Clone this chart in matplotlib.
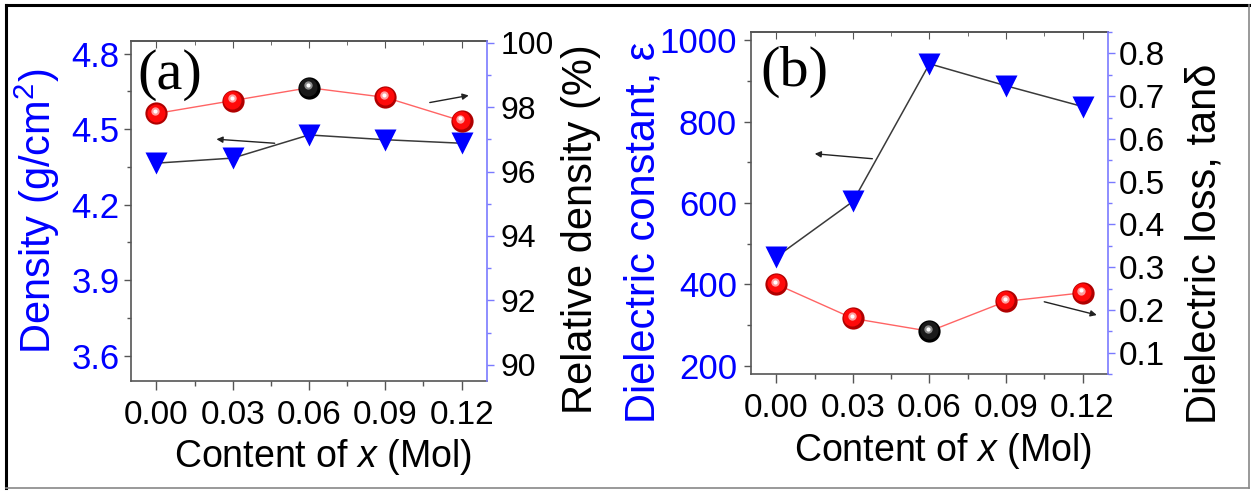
import matplotlib
matplotlib.use('Agg')
import matplotlib.pyplot as plt
import matplotlib.transforms as mtransforms
from matplotlib.ticker import MultipleLocator
from matplotlib.lines import Line2D

plt.rcParams['font.family'] = ['Liberation Sans', 'DejaVu Sans']
plt.rcParams['mathtext.fontset'] = 'custom'
plt.rcParams['mathtext.rm'] = 'Liberation Sans'
plt.rcParams['mathtext.it'] = 'Liberation Sans:italic'

# data
content = [0.00, 0.03, 0.06, 0.09, 0.12]
density = [4.365, 4.385, 4.477, 4.458, 4.444]
relative_density = [97.8, 98.2, 98.6, 98.3, 97.57]
dielectric_constant = [468, 604, 942, 888, 837]
dielectric_loss = [0.26, 0.18, 0.15, 0.22, 0.24]
best_idx = 2  # black ball

x_ticks = [0.00, 0.03, 0.06, 0.09, 0.12]
x_labels = ['0.00', '0.03', '0.06', '0.09', '0.12']
dens_ticks = [3.6, 3.9, 4.2, 4.5, 4.8]
rel_ticks = [90, 92, 94, 96, 98, 100]
eps_ticks = [200, 400, 600, 800, 1000]
loss_ticks = [0.1, 0.2, 0.3, 0.4, 0.5, 0.6, 0.7, 0.8]

BLUE = '#0000ff'
SPINE = '#555555'
RSPINE = '#7a7aff'

fig = plt.figure(figsize=(12.51, 4.92), dpi=100)


def off(dx, dy):
    return mtransforms.ScaledTranslation(dx / 72, dy / 72, fig.dpi_scale_trans)


def balls(ax, xs, ys):
    ax.plot(xs, ys, '-', color='#ff6464', lw=1.0, zorder=2)
    for i, (x, y) in enumerate(zip(xs, ys)):
        if i == best_idx:
            dark, mid, hl = '#000000', '#1a1a1a', '#d8d8d8'
        else:
            dark, mid, hl = '#b00000', '#ff0a0a', '#ffffff'
        ax.plot(x, y, 'o', ms=16, mfc=dark, mec='none', zorder=3)
        ax.plot(x, y, 'o', ms=13, mfc=mid, mec='none', zorder=4,
                transform=ax.transData + off(-0.5, 0.7))
        ax.plot(x, y, 'o', ms=6, mfc=hl, mec='none', alpha=0.6, zorder=5,
                transform=ax.transData + off(-0.8, 1.6))
        ax.plot(x, y, 'o', ms=3, mfc='white', mec='none', zorder=6,
                transform=ax.transData + off(-0.8, 1.8))


def triangles(ax, xs, ys):
    ax.plot(xs, ys, '-', color='#3a3a3a', lw=1.1, zorder=2)
    ax.plot(xs, ys, 'v', ms=15.5, color=BLUE, mec='none', zorder=3)


def arrow(ax, start, end):
    ax.annotate('', xy=end, xytext=start,
                arrowprops=dict(arrowstyle='-|>', color='#222222', lw=1.0,
                                mutation_scale=9, shrinkA=0, shrinkB=0))


def style(ax, ax2, lsize, rsize, lpad, rpad):
    ax.set_xlim(-0.01, 0.13)
    ax.set_xticks(x_ticks)
    ax.set_xticklabels(x_labels)
    ax.xaxis.set_minor_locator(MultipleLocator(0.015))
    ax.tick_params(axis='x', which='both', direction='out', color=SPINE,
                   labelsize=24, pad=7)
    ax.tick_params(axis='x', which='major', length=6.5, width=1)
    ax.tick_params(axis='x', which='minor', length=3.5, width=1)
    ax.tick_params(axis='y', which='both', direction='out', color=SPINE,
                   labelcolor=BLUE, labelsize=lsize, pad=lpad)
    ax.tick_params(axis='y', which='major', length=5, width=1)
    ax.tick_params(axis='y', which='minor', length=3, width=1)
    for s in ['left', 'bottom', 'top']:
        ax.spines[s].set_color(SPINE)
        ax.spines[s].set_linewidth(1.2)
    ax.spines['right'].set_visible(False)

    top = ax.secondary_xaxis('top')
    top.set_xticks(x_ticks)
    top.xaxis.set_minor_locator(MultipleLocator(0.015))
    top.tick_params(which='both', direction='in', color=SPINE, labeltop=False)
    top.tick_params(which='major', length=5)
    top.tick_params(which='minor', length=3)
    top.spines['top'].set_color(SPINE)
    top.spines['top'].set_linewidth(1.2)

    for s in ['left', 'bottom', 'top']:
        ax2.spines[s].set_visible(False)
    ax2.spines['right'].set_color(RSPINE)
    ax2.spines['right'].set_linewidth(1.2)
    ax2.tick_params(axis='y', which='both', direction='out', color=RSPINE,
                    labelcolor='black', labelsize=rsize, pad=rpad)
    ax2.tick_params(axis='y', which='major', length=5, width=1)
    ax2.tick_params(axis='y', which='minor', length=3, width=1)


# ---- panel (a)
ax_a = fig.add_axes([0.1047, 0.2256, 0.2846, 0.6911])
ax_a2 = ax_a.twinx()
triangles(ax_a, content, density)
balls(ax_a2, content, relative_density)
ax_a.set_ylim(3.5, 4.85)
ax_a.set_yticks(dens_ticks)
ax_a.set_yticklabels(['%.1f' % v for v in dens_ticks])
ax_a.yaxis.set_minor_locator(MultipleLocator(0.15))
ax_a2.set_ylim(89.5, 100.05)
ax_a2.set_yticks(rel_ticks)
ax_a2.set_yticklabels([str(v) for v in rel_ticks])
ax_a2.yaxis.set_minor_locator(MultipleLocator(1))
style(ax_a, ax_a2, 25, 23, 3, 5)
ax_a.set_ylabel('Density (g/cm$^{2}$)', color=BLUE, fontsize=30)
ax_a.yaxis.set_label_coords(-0.194, 0.5)
ax_a2.set_ylabel('Relative density (%)', color='black', fontsize=30)
ax_a2.yaxis.set_label_coords(1.208, 0.447)
ax_a.set_xlabel('Content of $\\it{x}$ (Mol)', fontsize=27)
ax_a.xaxis.set_label_coords(0.54, -0.165)
arrow(ax_a2, (0.1075, 98.14), (0.1228, 98.36))
arrow(ax_a, (0.0465, 4.444), (0.0236, 4.460))
ax_a.text(0.11, 0.9, '(a)', transform=ax_a.transAxes, ha='center', va='center',
          fontsize=42, family='Liberation Serif', zorder=10)

# ---- panel (b)
ax_b = fig.add_axes([0.6003, 0.2398, 0.2854, 0.6951])
ax_b2 = ax_b.twinx()
triangles(ax_b, content, dielectric_constant)
balls(ax_b2, content, dielectric_loss)
ax_b.set_ylim(180, 1020)
ax_b.set_yticks(eps_ticks)
ax_b.set_yticklabels([str(v) for v in eps_ticks])
ax_b.yaxis.set_minor_locator(MultipleLocator(100))
ax_b2.set_ylim(0.05, 0.85)
ax_b2.set_yticks(loss_ticks)
ax_b2.set_yticklabels(['%.1f' % v for v in loss_ticks])
ax_b2.yaxis.set_minor_locator(MultipleLocator(0.05))
style(ax_b, ax_b2, 25, 24, 5, 3)
ax_b.set_ylabel('Dielectric constant, \u03b5', color=BLUE, fontsize=30)
ax_b.yaxis.set_label_coords(-0.245, 0.415)
ax_b2.set_ylabel('Dielectric loss, tan\u03b4', color='black', fontsize=30)
ax_b2.yaxis.set_label_coords(1.213, 0.38)
ax_b.set_xlabel('Content of $\\it{x}$ (Mol)', fontsize=27)
ax_b.xaxis.set_label_coords(0.538, -0.167)
arrow(ax_b, (0.0376, 708.8), (0.015, 721))
arrow(ax_b2, (0.105, 0.219), (0.1256, 0.188))
ax_b.text(0.123, 0.883, '(b)', transform=ax_b.transAxes, ha='center', va='center',
          fontsize=42, family='Liberation Serif', zorder=10)

# border around the whole figure
W, H = 1251.0, 492.0
fig.add_artist(Line2D([6 / W, 6 / W], [1 - 5 / H, 1 - 488 / H], color='black', lw=2.2))
fig.add_artist(Line2D([6 / W, 1249 / W], [1 - 5 / H, 1 - 5 / H], color='black', lw=2.2))
fig.add_artist(Line2D([1249 / W, 1249 / W], [1 - 5 / H, 1 - 488 / H], color='#888888', lw=1.2))
fig.add_artist(Line2D([6 / W, 1249 / W], [1 - 488 / H, 1 - 488 / H], color='#888888', lw=1.2))

fig.savefig('out.png', dpi=100)
